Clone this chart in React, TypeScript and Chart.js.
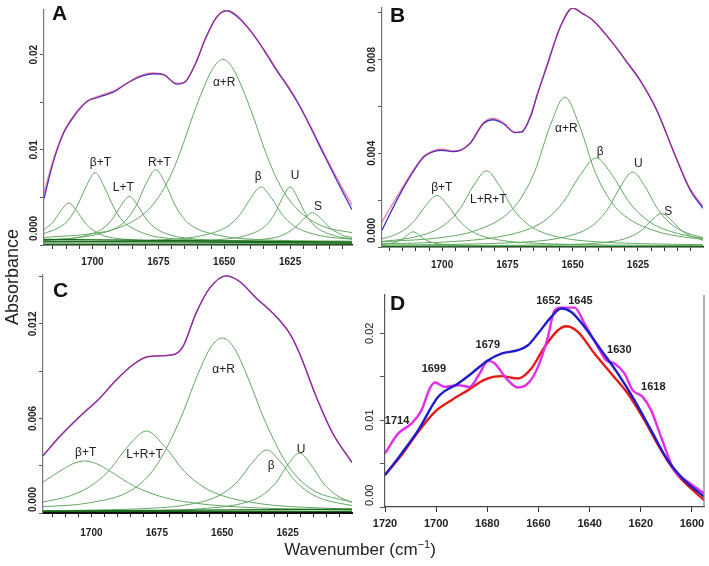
import React, { useEffect, useRef } from "react";
import { Chart, registerables } from "chart.js";
Chart.register(...registerables);

type Pt = [number, number];

// ---------------- Panel A ----------------
const A_MEASURED: Pt[] = [[1718.4,0.0049],[1714.7,0.0089],[1710.9,0.0118],[1707.1,0.0135],[1702,0.0151],[1697,0.0156],[1691.9,0.0161],[1686.9,0.017],[1681.8,0.0177],[1677,0.018],[1673,0.0179],[1668,0.0169],[1665,0.0171],[1661,0.019],[1657,0.0218],[1653,0.0239],[1649,0.0246],[1645,0.024],[1640,0.0225],[1635,0.0205],[1630,0.0183],[1626,0.0167],[1622,0.0149],[1618,0.0128],[1612,0.0094],[1606,0.0061],[1601.5,0.0037]];
const A_FIT: Pt[] = [[1718.4,0.0055],[1714.7,0.0091],[1710.9,0.0119],[1707.1,0.0136],[1702,0.0151],[1697,0.0157],[1691.9,0.0162],[1686.9,0.017],[1681.8,0.0178],[1677,0.0181],[1673,0.0179],[1668,0.017],[1665,0.0171],[1661,0.019],[1657,0.0217],[1653,0.0239],[1649,0.0247],[1645,0.0241],[1640,0.0225],[1635,0.0206],[1630,0.0184],[1626,0.0168],[1622,0.015],[1618,0.0129],[1612,0.0096],[1606,0.0064],[1601.5,0.0042]];
const A_BAND_1709: Pt[] = [[1601.5,0.0003],[1650,0.00034],[1673,0.0004],[1685,0.00054],[1691,0.0007],[1697,0.0011],[1700,0.0016],[1703,0.0024],[1706,0.0036],[1709,0.0044],[1712,0.0036],[1715,0.0024],[1718.4,0.0016]];
const A_BAND_BT: Pt[] = [[1601.5,0.00035],[1630,0.0004],[1657,0.0005],[1671,0.0007],[1678,0.001],[1685,0.0018],[1688.5,0.0025],[1692,0.004],[1695.5,0.0061],[1699,0.0076],[1702.5,0.0061],[1706,0.004],[1709.5,0.0025],[1713,0.0018],[1718.4,0.0012]];
const A_BAND_LT: Pt[] = [[1601.5,0.00033],[1620,0.00035],[1647,0.00043],[1660,0.0006],[1666.5,0.0008],[1673,0.0013],[1676.25,0.0018],[1679.5,0.0027],[1682.75,0.0041],[1686,0.0051],[1689.25,0.0041],[1692.5,0.0027],[1695.75,0.0018],[1699,0.0013],[1705.5,0.0008],[1718.4,0.0005]];
const A_BAND_RT: Pt[] = [[1601.5,0.0004],[1631,0.0005],[1646,0.00075],[1653.5,0.0011],[1661,0.0018],[1664.75,0.0026],[1668.5,0.0041],[1672.25,0.0064],[1676,0.0079],[1679.75,0.0064],[1683.5,0.0041],[1687.25,0.0026],[1691,0.0018],[1698.5,0.0011],[1706,0.00075],[1718.4,0.0005]];
const A_BAND_AR: Pt[] = [[1601.5,0.0013],[1612,0.0019],[1620,0.0032],[1626,0.005],[1631,0.0075],[1635,0.0103],[1639,0.0135],[1643,0.0164],[1647,0.0187],[1650.5,0.0195],[1654,0.0187],[1658,0.0164],[1662,0.0135],[1666,0.0103],[1670,0.0075],[1675,0.005],[1680,0.0034],[1690,0.0018],[1700,0.0012],[1718.4,0.0008]];
const A_BAND_B: Pt[] = [[1601.5,0.0006],[1612,0.0009],[1620,0.0015],[1624,0.0021],[1628,0.0032],[1632,0.0049],[1636,0.0061],[1640,0.0049],[1644,0.0032],[1648,0.0021],[1652,0.0015],[1660,0.0009],[1668,0.00064],[1690,0.0004],[1718.4,0.00035]];
const A_BAND_U: Pt[] = [[1601.5,0.00067],[1607,0.0009],[1613,0.0015],[1616,0.0021],[1619,0.0032],[1622,0.0049],[1625,0.0061],[1628,0.0049],[1631,0.0032],[1634,0.0021],[1637,0.0015],[1643,0.0009],[1649,0.00064],[1661,0.00046],[1680,0.00037],[1718.4,0.0003]];
const A_BAND_S: Pt[] = [[1601.5,0.0008],[1603.9,0.0009],[1607.05,0.0013],[1610.2,0.0019],[1613.35,0.0028],[1616.5,0.0034],[1619.65,0.0028],[1622.8,0.0019],[1625.95,0.0013],[1629.1,0.0009],[1635.4,0.0006],[1641.7,0.0005],[1670,0.00034],[1718.4,0.0003]];
const A_BASE_1: Pt[] = [[1601.5,0.0001],[1718.4,0.0001]];
const A_BASE_2: Pt[] = [[1601.5,0.0003],[1718.4,0.0006]];
const A_BASE_3: Pt[] = [[1601.5,0.0002],[1718.4,0.0004]];
const A_NOTES: [string, number, number][] = [["β+T",1697,0.0086],["L+T",1688.3,0.006],["R+T",1674.6,0.0086],["α+R",1650,0.0171],["β",1637.1,0.0072],["U",1623.1,0.0073],["S",1614.4,0.004]];
const A_XTICKS = [1605,1610,1615,1620,1625,1630,1635,1640,1645,1650,1655,1660,1665,1670,1675,1680,1685,1690,1695,1700,1705,1710,1715];
const A_XLABELS = [1700,1675,1650,1625];
const A_YTICKS = [0,0.005,0.01,0.015,0.02];
const A_YLABELS: [number, string][] = [[0,"0.000"],[0.01,"0.01"],[0.02,"0.02"]];

// ---------------- Panel B ----------------
const B_MEASURED: Pt[] = [[1723,0.00072],[1716,0.00228],[1710,0.0034],[1707,0.00384],[1703,0.00408],[1700,0.00413],[1696,0.00407],[1693,0.00412],[1689.3,0.00441],[1684.2,0.00526],[1680.4,0.00543],[1676.5,0.00526],[1672,0.00488],[1669.5,0.0049],[1666,0.0056],[1663.8,0.0064],[1660,0.00767],[1654.8,0.00937],[1650,0.0102],[1646,0.00995],[1642.1,0.00966],[1634.4,0.00867],[1629.3,0.00789],[1624.2,0.00711],[1617.8,0.00583],[1611.5,0.0041],[1605.1,0.00245],[1600.1,0.00165]];
const B_FIT: Pt[] = [[1723,0.00108],[1716,0.00238],[1710,0.00345],[1707,0.00388],[1703,0.00412],[1700,0.00418],[1696,0.0041],[1693,0.00414],[1689.3,0.00444],[1684.2,0.0053],[1680.4,0.0055],[1676.5,0.0053],[1672,0.0049],[1669.5,0.00494],[1666,0.00566],[1663.8,0.00646],[1660,0.00772],[1654.8,0.0094],[1650,0.0102],[1646,0.00995],[1642.1,0.00966],[1634.4,0.00867],[1629.3,0.00792],[1624.2,0.00713],[1617.8,0.00585],[1611.5,0.00413],[1605.1,0.0025],[1600.1,0.00175]];
const B_BAND_1711: Pt[] = [[1600.1,0.00005],[1660,0.00005],[1687,0.00007],[1695,0.00009],[1699,0.00011],[1703,0.00017],[1705,0.00024],[1707,0.00035],[1709,0.00053],[1711,0.00065],[1713,0.00053],[1715,0.00035],[1717,0.00024],[1719,0.00017],[1723,0.00011]];
const B_BAND_BT: Pt[] = [[1600.1,0.00006],[1620,0.00007],[1651,0.00011],[1668,0.00018],[1676.5,0.00027],[1685,0.00048],[1689.25,0.00071],[1693.5,0.00113],[1697.75,0.00177],[1702,0.0022],[1706.25,0.00177],[1710.5,0.00113],[1714.75,0.00071],[1719,0.00048],[1723,0.00035]];
const B_BAND_LRT: Pt[] = [[1600.1,0.0001],[1623,0.00014],[1643,0.00024],[1653,0.00037],[1663,0.00069],[1668,0.00104],[1673,0.00165],[1678,0.00261],[1683,0.00325],[1688,0.00261],[1693,0.00165],[1698,0.00104],[1703,0.00069],[1713,0.00037],[1723,0.00024]];
const B_BAND_AR: Pt[] = [[1600.1,0.00034],[1607,0.00042],[1618.5,0.00069],[1630,0.00132],[1635.75,0.00201],[1641.5,0.00323],[1647.25,0.00513],[1653,0.0064],[1658.75,0.00513],[1664.5,0.00323],[1670.25,0.00201],[1676,0.00132],[1687.5,0.00069],[1699,0.00042],[1723,0.00022]];
const B_BAND_B: Pt[] = [[1600.1,0.00037],[1603.5,0.00043],[1616,0.0008],[1622.25,0.00121],[1628.5,0.00193],[1634.75,0.00305],[1641,0.0038],[1647.25,0.00305],[1653.5,0.00193],[1659.75,0.00121],[1666,0.0008],[1678.5,0.00043],[1691,0.00027],[1716,0.00015],[1723,0.00014]];
const B_BAND_U: Pt[] = [[1600.1,0.0004],[1608,0.00068],[1612.75,0.00102],[1617.5,0.00163],[1622.25,0.00257],[1627,0.0032],[1631.75,0.00257],[1636.5,0.00163],[1641.25,0.00102],[1646,0.00068],[1655.5,0.00037],[1665,0.00024],[1684,0.00014],[1723,0.00008]];
const B_BAND_S: Pt[] = [[1600.1,0.00029],[1601.3,0.00033],[1605,0.00048],[1608.65,0.00074],[1612.3,0.00115],[1616,0.00143],[1619.7,0.00115],[1623.35,0.00074],[1627,0.00048],[1630.7,0.00033],[1638,0.00019],[1645.4,0.00013],[1660,0.00009],[1723,0.00005]];
const B_BASE_1: Pt[] = [[1600.1,0.00002],[1723,0.00002]];
const B_NOTES: [string, number, number][] = [["β+T",1700.1,0.00251],["L+R+T",1682.3,0.002],["α+R",1652.4,0.00505],["β",1639.5,0.00405],["U",1624.9,0.00356],["S",1613.4,0.00151]];
const B_XTICKS = [1605,1610,1615,1620,1625,1630,1635,1640,1645,1650,1655,1660,1665,1670,1675,1680,1685,1690,1695,1700,1705,1710,1715,1720];
const B_XLABELS = [1700,1675,1650,1625];
const B_YTICKS = [0,0.002,0.004,0.006,0.008,0.01];
const B_YLABELS: [number, string][] = [[0,"0.000"],[0.004,"0.004"],[0.008,"0.008"]];

// ---------------- Panel C ----------------
const C_MEASURED: Pt[] = [[1718.5,0.00362],[1712.1,0.00485],[1704.5,0.00611],[1696.8,0.00728],[1690.5,0.00844],[1684.1,0.0094],[1679,0.00989],[1673.9,0.00997],[1668.9,0.01003],[1665,0.01056],[1660,0.01268],[1654.8,0.01427],[1648.5,0.01505],[1643.4,0.01469],[1637,0.01363],[1630.7,0.01268],[1624.3,0.01141],[1620.5,0.01014],[1614.1,0.00738],[1607.8,0.00506],[1600.4,0.00319]];
const C_FIT: Pt[] = [[1718.5,0.00366],[1712.1,0.00487],[1704.5,0.00613],[1696.8,0.00729],[1690.5,0.00845],[1684.1,0.00941],[1679,0.0099],[1673.9,0.00998],[1668.9,0.01004],[1665,0.01057],[1660,0.01268],[1654.8,0.01427],[1648.5,0.01505],[1643.4,0.0147],[1637,0.01364],[1630.7,0.01269],[1624.3,0.01142],[1620.5,0.01016],[1614.1,0.0074],[1607.8,0.00508],[1600.4,0.00322]];
const C_BAND_BT: Pt[] = [[1600.4,0.00019],[1626.5,0.00027],[1645.5,0.0004],[1664.5,0.00072],[1674,0.00107],[1683.5,0.00169],[1693,0.00266],[1697.75,0.00311],[1702.5,0.0033],[1707.25,0.00311],[1712,0.00266],[1718.5,0.00196]];
const C_BAND_LRT: Pt[] = [[1600.4,0.00025],[1621,0.00038],[1635.5,0.00059],[1650,0.0011],[1657.25,0.00166],[1664.5,0.00264],[1671.75,0.00418],[1679,0.0052],[1686.25,0.00418],[1693.5,0.00264],[1700.75,0.00166],[1708,0.0011],[1718.5,0.00069]];
const C_BAND_AR: Pt[] = [[1600.4,0.00068],[1616,0.00152],[1624.5,0.00293],[1633,0.00559],[1641.5,0.00912],[1645.75,0.01055],[1650,0.0111],[1654.25,0.01055],[1658.5,0.00912],[1667,0.00559],[1675.5,0.00293],[1684,0.00152],[1701,0.00064],[1718.5,0.0004]];
const C_BAND_B: Pt[] = [[1600.4,0.00047],[1611.3,0.00086],[1616.7,0.00129],[1622.15,0.00204],[1627.6,0.00322],[1633,0.004],[1638.4,0.00322],[1643.85,0.00204],[1649.3,0.00129],[1654.7,0.00086],[1665.5,0.00047],[1676.4,0.00031],[1698,0.00019],[1718.5,0.00014]];
const C_BAND_U: Pt[] = [[1600.4,0.00069],[1602.7,0.00082],[1607.15,0.00123],[1611.6,0.00194],[1616.05,0.00306],[1620.5,0.0038],[1624.95,0.00306],[1629.4,0.00194],[1633.85,0.00123],[1638.3,0.00082],[1647.2,0.00045],[1656.1,0.0003],[1667.1,0.00018],[1718.5,0.00011]];
const C_BASE_1: Pt[] = [[1600.4,0.0001],[1718.5,0.0001]];
const C_BASE_2: Pt[] = [[1600.4,0.00025],[1718.5,0.00012]];
const C_NOTES: [string, number, number][] = [["β+T",1702.2,0.00383],["L+R+T",1679.7,0.00368],["α+R",1649.5,0.00908],["β",1631.3,0.00298],["U",1619.9,0.004]];
const C_XTICKS = A_XTICKS;
const C_XLABELS = [1700,1675,1650,1625];
const C_YTICKS = [0,0.003,0.006,0.009,0.012,0.015];
const C_YLABELS: [number, string][] = [[0,"0.000"],[0.006,"0.006"],[0.012,"0.012"]];

// ---------------- Panel D ----------------
const D_BLUE: Pt[] = [[1720,0.00368],[1713.5,0.00617],[1707,0.00885],[1699.2,0.01268],[1691.4,0.01422],[1686.2,0.01537],[1679.7,0.0169],[1674.5,0.01766],[1668,0.01805],[1664.1,0.01862],[1660.2,0.01996],[1655,0.02188],[1651.1,0.02284],[1647.2,0.02245],[1642,0.02073],[1635.5,0.01805],[1629,0.01537],[1622.5,0.0123],[1616,0.00885],[1609.5,0.0054],[1603,0.0031],[1595.3,0.00119]];
const D_RED: Pt[] = [[1720,0.00368],[1713.5,0.00598],[1707,0.00866],[1700.5,0.01096],[1694,0.0123],[1687.5,0.01345],[1681,0.01467],[1674.5,0.01506],[1668,0.01479],[1662.8,0.01594],[1657.6,0.01843],[1652.4,0.02034],[1649.2,0.0208],[1644.6,0.02015],[1638.1,0.01766],[1631.6,0.01537],[1625.1,0.01306],[1618.6,0.01],[1612.1,0.00655],[1605.6,0.00368],[1600.4,0.00215],[1595.3,0.0008]];
const D_MAGENTA: Pt[] = [[1720,0.00617],[1714.8,0.00847],[1709.6,0.00962],[1705.7,0.01115],[1702.5,0.01364],[1700.5,0.01433],[1696.6,0.01383],[1691.4,0.01402],[1686.9,0.01383],[1683,0.01537],[1679.7,0.01682],[1677.1,0.01652],[1672.6,0.01479],[1668,0.01376],[1664.1,0.01422],[1660.2,0.01613],[1656.3,0.01958],[1653.7,0.02264],[1651.1,0.02295],[1645.9,0.02295],[1642,0.02111],[1636.8,0.01843],[1633.6,0.0169],[1630.3,0.01652],[1626.4,0.01537],[1623.2,0.01345],[1619.3,0.01268],[1616,0.01115],[1612.1,0.00808],[1607,0.00425],[1601.7,0.00291],[1595.3,0.00157]];
const D_NOTES: [string, number, number][] = [["1714",1715.3,0.00989],["1699",1700.9,0.01586],["1679",1679.8,0.01862],["1652",1656.1,0.02368],["1645",1643.6,0.02368],["1630",1628.4,0.01805],["1618",1615.1,0.01379]];
const D_XTICKS = [1600,1620,1640,1660,1680,1700,1720];
const D_XLABELS = [1600,1620,1640,1660,1680,1700,1720];
const D_YTICKS = [0,0.005,0.01,0.015,0.02];
const D_YLABELS: [number, string][] = [[0,"0.00"],[0.01,"0.01"],[0.02,"0.02"]];

// ---------------- styling ----------------
const GREEN = "rgb(98,168,98)";
const DARK_GREEN = "rgb(25,105,25)";
const T_BLUE = "rgb(60,50,205)";
const T_RED = "rgba(215,35,105,0.6)";
const NARROW = "'Liberation Sans Narrow', 'Liberation Sans', Arial, sans-serif";
const SANS = "'Liberation Sans', Arial, sans-serif";

interface LineSpec { data: Pt[]; color: string; width: number }
interface PanelSpec {
  left: number; top: number; width: number; height: number;
  padTop: number; padRight: number; yW: number; xH: number;
  xMin: number; xMax: number; yMin: number; yMax: number;
  xTicks: number[]; xLabels: number[]; yTicks: number[]; yLabels: [number, string][];
  lines: LineSpec[]; notes: [string, number, number][];
  noteFont: string; xFont: { family: string; size: number; weight: string };
  yFont: string; yDx: number; yInset: number; xPad: number; tickLen: number;
  xBorder: string; xBorderW: number; yBorder: string; rightBorder: boolean;
}

const comps = (arr: Pt[][]): LineSpec[] => arr.map((d) => ({ data: d, color: GREEN, width: 1 }));
const bases = (arr: Pt[][]): LineSpec[] => arr.map((d) => ({ data: d, color: DARK_GREEN, width: 1.2 }));

// lines listed bottom-to-top (drawing order)
const SPEC_A: PanelSpec = {
  left: 0, top: 0, width: 360, height: 276, padTop: 10, padRight: 8, yW: 44, xH: 31,
  xMin: 1601.5, xMax: 1718.4, yMin: 0, yMax: 0.0247,
  xTicks: A_XTICKS, xLabels: A_XLABELS, yTicks: A_YTICKS, yLabels: A_YLABELS,
  lines: [
    ...comps([A_BAND_1709, A_BAND_BT, A_BAND_LT, A_BAND_RT, A_BAND_AR, A_BAND_B, A_BAND_U, A_BAND_S]),
    ...bases([A_BASE_1, A_BASE_2, A_BASE_3]),
    { data: A_MEASURED, color: T_BLUE, width: 1.3 },
    { data: A_FIT, color: T_RED, width: 1.3 },
  ],
  notes: A_NOTES, noteFont: `12px ${SANS}`, xFont: { family: NARROW, size: 10, weight: "bold" },
  yFont: `bold 10px ${NARROW}`, yDx: 10, yInset: 4, xPad: 7, tickLen: 4,
  xBorder: "#222", xBorderW: 1.5, yBorder: "#777", rightBorder: false,
};

const SPEC_B: PanelSpec = {
  left: 355, top: 0, width: 354, height: 276, padTop: 8, padRight: 6, yW: 27, xH: 29,
  xMin: 1600.1, xMax: 1723, yMin: 0, yMax: 0.0102,
  xTicks: B_XTICKS, xLabels: B_XLABELS, yTicks: B_YTICKS, yLabels: B_YLABELS,
  lines: [
    ...comps([B_BAND_1711, B_BAND_BT, B_BAND_LRT, B_BAND_AR, B_BAND_B, B_BAND_U, B_BAND_S]),
    ...bases([B_BASE_1]),
    { data: B_MEASURED, color: T_BLUE, width: 1.3 },
    { data: B_FIT, color: T_RED, width: 1.3 },
  ],
  notes: B_NOTES, noteFont: `12px ${SANS}`, xFont: { family: NARROW, size: 10, weight: "bold" },
  yFont: `bold 10px ${NARROW}`, yDx: 10, yInset: 4, xPad: 8, tickLen: 4,
  xBorder: "#222", xBorderW: 1.5, yBorder: "#777", rightBorder: false,
};

const SPEC_C: PanelSpec = {
  left: 0, top: 268, width: 360, height: 278, padTop: 7, padRight: 8, yW: 43, xH: 33,
  xMin: 1600.4, xMax: 1718.5, yMin: 0, yMax: 0.0151,
  xTicks: C_XTICKS, xLabels: C_XLABELS, yTicks: C_YTICKS, yLabels: C_YLABELS,
  lines: [
    ...comps([C_BAND_BT, C_BAND_LRT, C_BAND_AR, C_BAND_B, C_BAND_U]),
    ...bases([C_BASE_1, C_BASE_2]),
    { data: C_MEASURED, color: T_BLUE, width: 1.3 },
    { data: C_FIT, color: T_RED, width: 1.3 },
  ],
  notes: C_NOTES, noteFont: `12px ${SANS}`, xFont: { family: NARROW, size: 10, weight: "bold" },
  yFont: `bold 10px ${NARROW}`, yDx: 10, yInset: 1, xPad: 10, tickLen: 4,
  xBorder: "#111", xBorderW: 2, yBorder: "#777", rightBorder: false,
};

const SPEC_D: PanelSpec = {
  left: 355, top: 280, width: 354, height: 260, padTop: 15, padRight: 5, yW: 30, xH: 33,
  xMin: 1595.3, xMax: 1720, yMin: 0, yMax: 0.0244,
  xTicks: D_XTICKS, xLabels: D_XLABELS, yTicks: D_YTICKS, yLabels: D_YLABELS,
  lines: [
    { data: D_RED, color: "#e41b1b", width: 2.4 },
    { data: D_MAGENTA, color: "#e22ee6", width: 2.4 },
    { data: D_BLUE, color: "#1c1ccc", width: 2.4 },
  ],
  notes: D_NOTES, noteFont: `bold 11px ${NARROW}`, xFont: { family: NARROW, size: 11, weight: "bold" },
  yFont: `11px ${SANS}`, yDx: 15, yInset: 1, xPad: 5, tickLen: 5,
  xBorder: "#444", xBorderW: 1.2, yBorder: "#555", rightBorder: true,
};

function buildConfig(s: PanelSpec): any {
  const decor = {
    id: "decor",
    afterDatasetsDraw(chart: any) {
      const { ctx, chartArea: ca, scales } = chart;
      const xs = scales.x, ys = scales.y;
      ctx.save();
      ctx.font = s.noteFont;
      ctx.fillStyle = "#222";
      ctx.textAlign = "center";
      ctx.textBaseline = "middle";
      for (const [t, x, y] of s.notes) ctx.fillText(t, xs.getPixelForValue(x), ys.getPixelForValue(y));
      ctx.font = s.yFont;
      for (const [v, t] of s.yLabels) {
        const w = ctx.measureText(t).width;
        let cy = ys.getPixelForValue(v);
        if (cy + w / 2 > ca.bottom - s.yInset) cy = ca.bottom - s.yInset - w / 2;
        if (cy - w / 2 < ca.top) cy = ca.top + w / 2;
        ctx.save();
        ctx.translate(ca.left - s.yDx, cy);
        ctx.rotate(-Math.PI / 2);
        ctx.fillText(t, 0, 0);
        ctx.restore();
      }
      if (s.rightBorder) {
        ctx.strokeStyle = "#777";
        ctx.lineWidth = 1.2;
        ctx.beginPath();
        ctx.moveTo(ca.right, ca.top);
        ctx.lineTo(ca.right, ca.bottom);
        ctx.stroke();
      }
      ctx.restore();
    },
  };
  // Chart.js paints dataset 0 last (on top), so reverse the bottom-to-top list.
  const ordered = s.lines.slice().reverse();
  return {
    type: "line",
    data: {
      datasets: ordered.map((l) => ({
        data: l.data.map(([x, y]) => ({ x, y })),
        borderColor: l.color,
        borderWidth: l.width,
        pointRadius: 0,
        fill: false,
        cubicInterpolationMode: "monotone",
        clip: 0,
      })),
    },
    options: {
      responsive: false,
      animation: false,
      devicePixelRatio: 1,
      layout: { padding: { left: 0, top: s.padTop, right: s.padRight, bottom: 0 } },
      plugins: { legend: { display: false }, tooltip: { enabled: false } },
      events: [],
      scales: {
        x: {
          type: "linear",
          reverse: true,
          min: s.xMin,
          max: s.xMax,
          afterBuildTicks: (sc: any) => { sc.ticks = s.xTicks.map((v) => ({ value: v })); },
          afterFit: (sc: any) => { sc.height = s.xH; },
          ticks: {
            autoSkip: false, maxRotation: 0, minRotation: 0, padding: s.xPad,
            color: "#222", font: s.xFont,
            callback: (v: number) => (s.xLabels.includes(v) ? String(v) : ""),
          },
          grid: { display: true, drawOnChartArea: false, drawTicks: true, tickLength: s.tickLen, color: "#333", lineWidth: 1 },
          border: { display: true, color: s.xBorder, width: s.xBorderW },
        },
        y: {
          type: "linear",
          min: s.yMin,
          max: s.yMax,
          afterBuildTicks: (sc: any) => { sc.ticks = s.yTicks.map((v) => ({ value: v })); },
          afterFit: (sc: any) => { sc.width = s.yW; },
          ticks: { display: false },
          grid: { display: true, drawOnChartArea: false, drawTicks: true, tickLength: s.tickLen, color: "#555", lineWidth: 1 },
          border: { display: true, color: s.yBorder, width: 1.2 },
        },
      },
    },
    plugins: [decor],
  };
}

function Panel({ spec }: { spec: PanelSpec }) {
  const ref = useRef<HTMLCanvasElement>(null);
  useEffect(() => {
    const chart = new Chart(ref.current as HTMLCanvasElement, buildConfig(spec));
    return () => chart.destroy();
  }, [spec]);
  return (
    <canvas
      ref={ref}
      width={spec.width}
      height={spec.height}
      style={{ position: "absolute", left: spec.left, top: spec.top, width: spec.width, height: spec.height }}
    />
  );
}

const letterStyle = (left: number, top: number): React.CSSProperties => ({
  position: "absolute", left, top, font: `bold 21px ${SANS}`, lineHeight: "21px", color: "#111",
});

export default function App() {
  return (
    <div style={{ position: "absolute", left: 0, top: 0, width: 709, height: 566, background: "#fff", overflow: "hidden" }}>
      <Panel spec={SPEC_A} />
      <Panel spec={SPEC_B} />
      <Panel spec={SPEC_C} />
      <Panel spec={SPEC_D} />
      <div style={letterStyle(52, 2)}>A</div>
      <div style={letterStyle(390, 4)}>B</div>
      <div style={letterStyle(53, 279)}>C</div>
      <div style={letterStyle(390, 292)}>D</div>
      <div
        style={{
          position: "absolute", left: 12, top: 277, transform: "translate(-50%, -50%) rotate(-90deg)",
          font: `18px ${SANS}`, color: "#222", whiteSpace: "nowrap",
        }}
      >
        Absorbance
      </div>
      <div
        style={{
          position: "absolute", left: 360, top: 550, transform: "translate(-50%, -50%)",
          font: `17px ${SANS}`, color: "#222", whiteSpace: "nowrap",
        }}
      >
        Wavenumber (cm<sup style={{ fontSize: "11px", verticalAlign: "7px", lineHeight: 0 }}>−1</sup>)
      </div>
    </div>
  );
}
